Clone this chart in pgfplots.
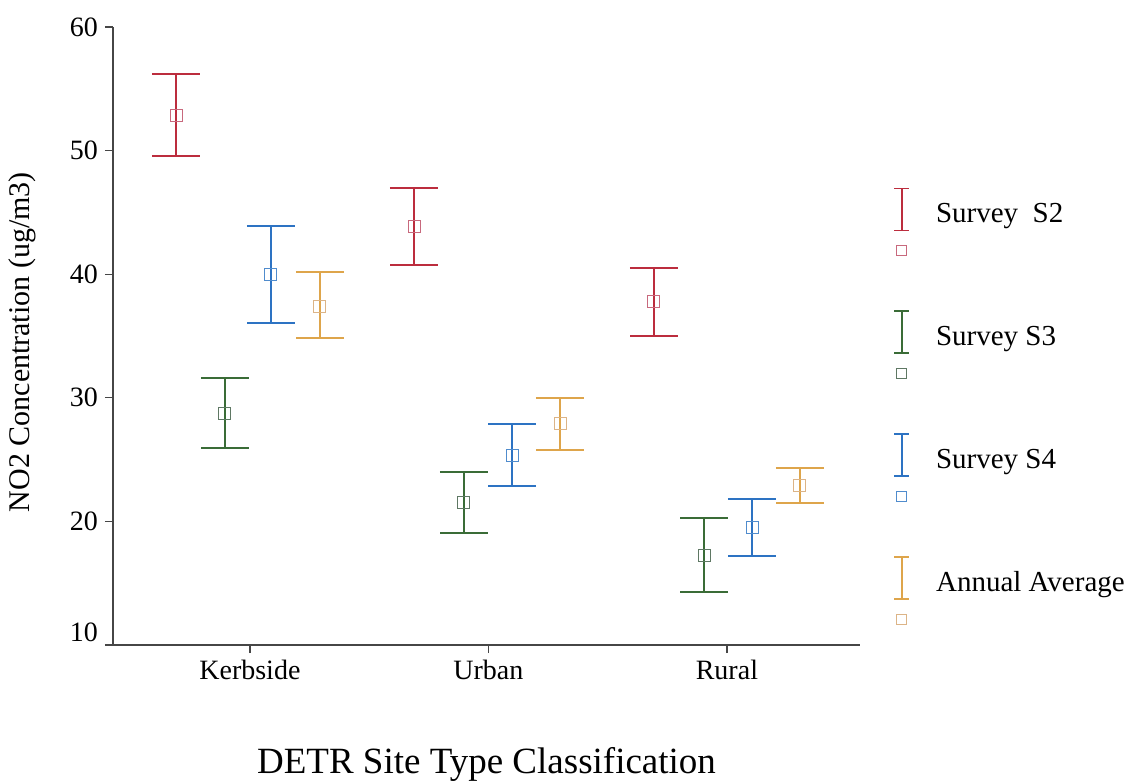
\documentclass[border=0pt]{standalone}
\usepackage{fontspec}
\setmainfont{Liberation Serif}
\usepackage{pgfplots}
\usepackage{pgfplotstable}
\pgfplotsset{compat=1.18}
\definecolor{cS2}{RGB}{188,45,62}
\definecolor{cS3}{RGB}{58,108,55}
\definecolor{cS4}{RGB}{45,115,195}
\definecolor{cAA}{RGB}{222,165,75}
\definecolor{mS2}{RGB}{200,105,125}
\definecolor{mS3}{RGB}{95,120,100}
\definecolor{mS4}{RGB}{80,140,205}
\definecolor{mAA}{RGB}{220,180,135}
\definecolor{axgray}{RGB}{70,70,70}

\pgfplotstableread{
x y ep em
0.690 52.88 3.32 3.32
1.688 43.90 3.07 3.16
2.694 37.83 2.67 2.83
}\tSii
\pgfplotstableread{
x y ep em
0.895 28.77 2.83 2.83
1.897 21.57 2.43 2.51
2.904 17.28 3.02 2.97
}\tSiii
\pgfplotstableread{
x y ep em
1.088 39.99 3.93 3.91
2.099 25.37 2.51 2.47
3.105 19.50 2.31 2.30
}\tSiv
\pgfplotstableread{
x y ep em
1.293 37.37 2.83 2.51
2.300 27.96 2.02 2.18
3.306 22.94 1.38 1.48
}\tAA

\newcommand\errimg[2]{%
  \draw[#1, line width=0.8pt] (0pt,-8pt) -- (0pt,13pt);
  \draw[#1, line width=0.8pt] (-3.75pt,-8pt) -- (3.75pt,-8pt);
  \draw[#1, line width=0.8pt] (-3.75pt,13pt) -- (3.75pt,13pt);
  \draw[#2, line width=0.45pt] (-2.5pt,-20.5pt) rectangle (2.5pt,-15.5pt);
  \path (0pt,19.5pt);
}

\begin{document}
\begin{tikzpicture}
\useasboundingbox (-56.5pt,-68.5pt) rectangle (511pt,322.5pt);
\begin{axis}[
  scale only axis, width=373.5pt, height=309pt,
  xmin=0.426, xmax=3.558, ymin=10, ymax=60,
  axis lines*=left,
  axis line style={axgray, line width=0.6pt},
  xtick={1,2,3}, xticklabels={Kerbside,Urban,Rural},
  ytick={20,30,40,50,60},
  extra y ticks={10},
  extra y tick style={yticklabel style={yshift=6.5pt}},
  tick align=outside, major tick length=4pt,
  tick style={axgray, line width=0.6pt},
  ticklabel style={font=\fontsize{14}{16}\selectfont},
  /pgf/number format/assume math mode=true,
  xlabel={DETR Site Type Classification},
  xlabel style={font=\fontsize{18.5}{22}\selectfont, at={(axis description cs:0.5,-0.194)}, anchor=center},
  ylabel={NO2 Concentration (ug/m3)},
  ylabel style={font=\fontsize{15}{18}\selectfont, at={(axis description cs:-0.1218,0.49)}, anchor=center},
  clip=false,
  legend style={at={(axis description cs:1.0448,0.7605)}, anchor=north west, draw=none, fill=none,
    inner sep=0pt, outer sep=0pt, row sep=21pt, column sep=13pt,
    font=\fontsize{14.5}{17}\selectfont, nodes={inner sep=0pt}},
  legend cell align=left,
]
\addplot[only marks, mark=square, mark size=3pt, mark options={draw=mS2, line width=0.45pt},
  legend image code/.code={\errimg{cS2}{mS2}},
  error bars/.cd, y dir=both, y explicit, error mark=|,
  error bar style={cS2, line width=1pt},
  error mark options={cS2, line width=1pt, mark size=12pt}]
  table[x=x, y=y, y error plus=ep, y error minus=em] {\tSii};
\addlegendentry{Survey\ \ S2}
\addplot[only marks, mark=square, mark size=3pt, mark options={draw=mS3, line width=0.45pt},
  legend image code/.code={\errimg{cS3}{mS3}},
  error bars/.cd, y dir=both, y explicit, error mark=|,
  error bar style={cS3, line width=1pt},
  error mark options={cS3, line width=1pt, mark size=12pt}]
  table[x=x, y=y, y error plus=ep, y error minus=em] {\tSiii};
\addlegendentry{Survey S3}
\addplot[only marks, mark=square, mark size=3pt, mark options={draw=mS4, line width=0.45pt},
  legend image code/.code={\errimg{cS4}{mS4}},
  error bars/.cd, y dir=both, y explicit, error mark=|,
  error bar style={cS4, line width=1pt},
  error mark options={cS4, line width=1pt, mark size=12pt}]
  table[x=x, y=y, y error plus=ep, y error minus=em] {\tSiv};
\addlegendentry{Survey S4}
\addplot[only marks, mark=square, mark size=3pt, mark options={draw=mAA, line width=0.45pt},
  legend image code/.code={\errimg{cAA}{mAA}},
  error bars/.cd, y dir=both, y explicit, error mark=|,
  error bar style={cAA, line width=1pt},
  error mark options={cAA, line width=1pt, mark size=12pt}]
  table[x=x, y=y, y error plus=ep, y error minus=em] {\tAA};
\addlegendentry{Annual Average}
\end{axis}
\end{tikzpicture}
\end{document}
